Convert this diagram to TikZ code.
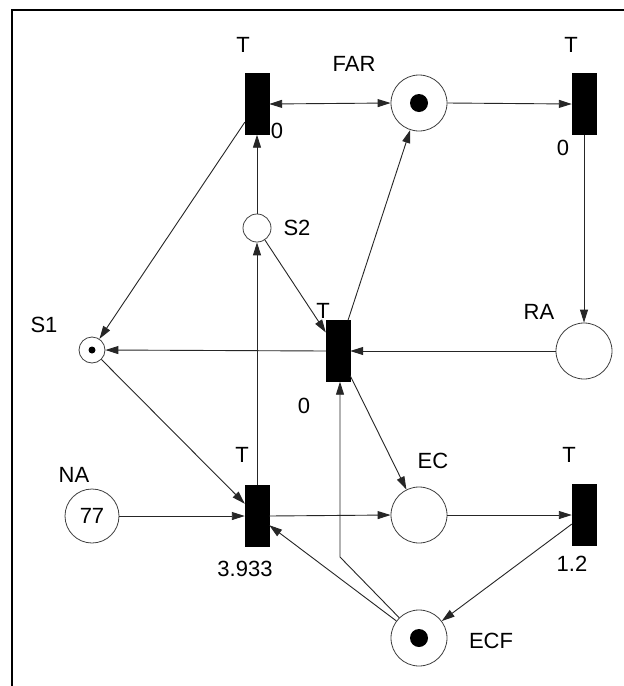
\documentclass[tikz,border=0pt]{standalone}
\usepackage{fontspec}
\setmainfont{Liberation Sans}
\usetikzlibrary{arrows.meta}
\begin{document}
\begin{tikzpicture}[x=1pt,y=-1pt,
  place/.style={circle,draw=black!75,line width=0.8pt,minimum size=56pt,inner sep=0pt,font=\fontsize{22}{26}\selectfont},
  smallplace/.style={place,minimum size=28pt},
  trans/.style={rectangle,fill=black,draw=black,minimum width=24pt,minimum height=61pt,inner sep=0pt},
  lbl/.style={font=\fontsize{22}{26}\selectfont,inner sep=0pt,text=black},
  arc/.style={line width=0.9pt,draw=black!85,-{Triangle[length=13pt,width=8pt]}},
  biarc/.style={line width=0.9pt,draw=black!85,{Triangle[length=13pt,width=8pt]}-{Triangle[length=13pt,width=8pt]}},
  token/.style={circle,fill=black,inner sep=0pt}
]
\useasboundingbox (0,0) rectangle (624,686);
\fill[white] (0,0) rectangle (624,686);
\draw[line width=2pt] (12,686) -- (12,10) -- (624,10);

% transitions
\node[trans] (T1) at (257,104) {};
\node[trans] (T2) at (584,104) {};
\node[trans] (T3) at (338,351) {};
\node[trans] (T4) at (257,516) {};
\node[trans] (T5) at (584,515) {};

% places
\node[place] (FAR) at (419,103) {};
\node[token,minimum size=18pt] (farTok) at (FAR.center) {};
\node[smallplace] (S2) at (257,228) {};
\node[place,minimum size=26pt] (S1) at (92,350) {};
\node[token,minimum size=7pt] (s1Tok) at (S1.center) {};
\node[place] (RA) at (584,351) {};
\node[place,minimum size=54pt] (NA) at (92,516) {77};
\node[place] (EC) at (419,515) {};
\node[place] (ECF) at (419,638) {};
\node[token,minimum size=18pt] (ecfTok) at (ECF.center) {};

% labels
\node[lbl] (lT1) at (243,45) {T};
\node[lbl] (lT1d) at (277,131) {0};
\node[lbl] (lFAR) at (354,64) {FAR};
\node[lbl] (lT2) at (571,45) {T};
\node[lbl] (lT2d) at (563,148) {0};
\node[lbl] (lS2) at (297,228) {S2};
\node[lbl] (lT3) at (323,311) {T};
\node[lbl] (lT3d) at (304,406) {0};
\node[lbl] (lS1) at (44,325) {S1};
\node[lbl] (lRA) at (539,312) {RA};
\node[lbl] (lNA) at (74,475) {NA};
\node[lbl] (lT4) at (242,455) {T};
\node[lbl] (lT4d) at (245,569) {3.933};
\node[lbl] (lEC) at (433,461) {EC};
\node[lbl] (lT5) at (569,455) {T};
\node[lbl] (lT5d) at (572,564) {1.2};
\node[lbl] (lECF) at (491,641) {ECF};

% arcs
\draw[biarc] (T1.east) -- (FAR.west);
\draw[arc] (FAR.east) -- (T2.west);
\draw[arc] (T2.south) -- (RA.north);
\draw[arc] (RA.west) -- (T3.east);
\draw[arc] (T3.west) -- (S1.east);
\draw[arc] (T1) -- (S1);
\draw[arc] (S2.north) -- (T1.south);
\draw[arc] (T4.north) -- (S2.south);
\draw[arc] (S2) -- (T3);
\draw[arc] (T3) -- (FAR);
\draw[arc] (T3) -- (EC);
\draw[arc] (S1) -- (T4);
\draw[arc] (NA.east) -- (T4.west);
\draw[arc] (T4.east) -- (EC.west);
\draw[arc] (EC.east) -- (T5.west);
\draw[arc] (T5) -- (ECF);
\draw[arc] (ECF) -- (T4);
\coordinate (bend) at (340,557);
\draw[arc] (ECF) -- (bend) -- (bend |- T3.south);
\end{tikzpicture}
\end{document}
